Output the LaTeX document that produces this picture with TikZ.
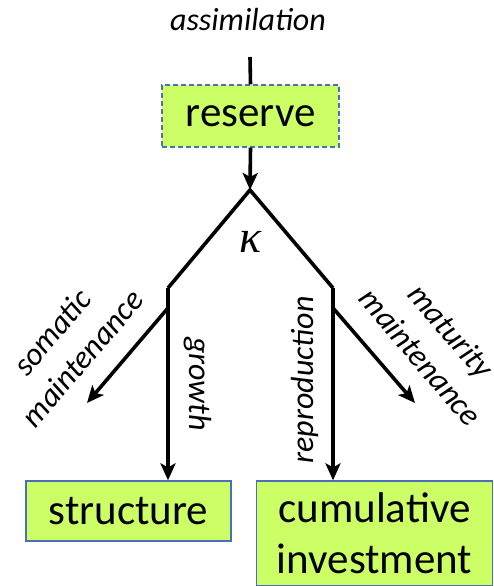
\documentclass[tikz,border=0pt]{standalone}
\usepackage{fontspec}
\setmainfont{Carlito}
\newfontfamily\greekfont{Liberation Serif}
\usetikzlibrary{arrows.meta}
\definecolor{boxfill}{HTML}{CCFF66}
\definecolor{boxline}{HTML}{4A6FB5}

\begin{document}
\begin{tikzpicture}[x=1pt,y=-1pt,
	pool/.style={draw=boxline, line width=1.3pt, fill=boxfill, align=center, inner sep=0pt,
		font=\fontsize{43}{51}\selectfont},
	flux/.style={line width=3.6pt, -{Stealth[length=17pt,width=15pt,inset=4pt]}},
	flow/.style={font=\fontsize{32}{40}\selectfont\itshape, align=center, inner sep=0pt}]
	\useasboundingbox (0,0) rectangle (493,586);

	\node[flow] (assim) at (248,20) {assimilation};
	\node[pool, dash pattern=on 5pt off 3pt, minimum width=177pt, minimum height=62pt] (reserve) at (250.5,116) {reserve};
	\node[pool, minimum width=205pt, minimum height=60pt] (struct) at (128.5,511) {structure};
	\node[pool, minimum width=236pt, minimum height=105pt] (invest) at (374.5,533.5) {cumulative\\investment};

	\coordinate (inflow) at (250,57);
	\coordinate (split) at (250,190);
	\coordinate (lft) at (168,288);
	\coordinate (rgt) at (333,288);
	\coordinate (lbranch) at (168,308);
	\coordinate (rbranch) at (333,308);
	\coordinate (somend) at (87,403);
	\coordinate (matend) at (415,403);

	\node[font=\fontsize{46}{46}\greekfont\itshape] (kappa) at (251,242) {κ};

	% reserve in and out
	\draw[line width=3.6pt] (inflow) -- (reserve.north);
	\draw[flux] (reserve.south) -- (split);

	% kappa rule
	\draw[line width=3.6pt, line join=miter] (lft) -- (split) -- (rgt);
	\draw[flux] (lft) -- (lft |- struct.north);
	\draw[flux] (rgt) -- (rgt |- invest.north);
	\draw[flux] (lbranch) -- (somend);
	\draw[flux] (rbranch) -- (matend);

	% flux labels
	\node[flow, rotate=49.5] (soma) at (67,345) {somatic\\maintenance};
	\node[flow, rotate=-49.5] (matu) at (436,344) {maturity\\maintenance};
	\node[flow, rotate=-90] (grow) at (198,384) {growth};
	\node[flow, rotate=90] (repro) at (305,380) {reproduction};
\end{tikzpicture}
\end{document}
